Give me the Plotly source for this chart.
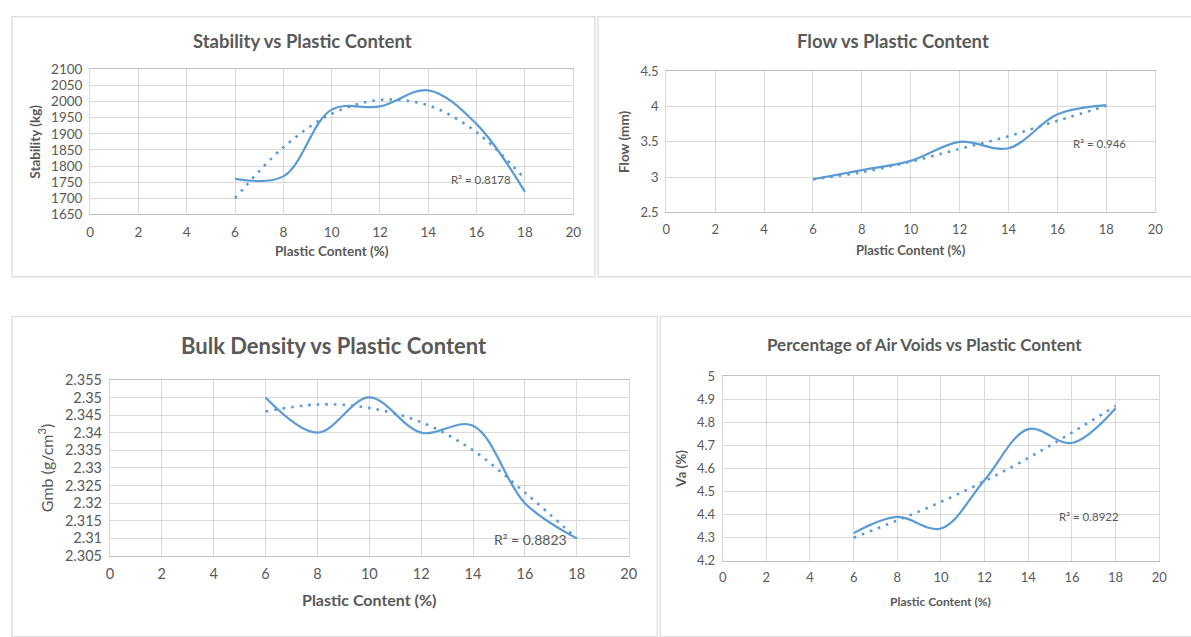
import plotly.graph_objects as go

W, H = 1191, 637

plastic = [6, 8, 10, 12, 14, 16, 18]

stability = [1760, 1768, 1975, 1985, 2035, 1930, 1720]
stability_trend = [1700, 1858, 1962, 2005, 1988, 1905, 1760]

flow = [2.97, 3.10, 3.23, 3.50, 3.41, 3.89, 4.02]
flow_trend = [2.97, 3.07, 3.22, 3.40, 3.58, 3.80, 4.01]

density = [2.350, 2.340, 2.350, 2.340, 2.342, 2.320, 2.310]
density_trend = [2.346, 2.348, 2.347, 2.343, 2.335, 2.323, 2.310]

air_voids = [4.32, 4.39, 4.34, 4.55, 4.77, 4.71, 4.86]
air_voids_trend = [4.30, 4.375, 4.455, 4.545, 4.645, 4.755, 4.87]

x_ticks = [0, 2, 4, 6, 8, 10, 12, 14, 16, 18, 20]

BLUE = "#5B9BD5"
GREY = "#595959"
GRID = "#d9d9d9"
FONT = "Lato, 'Open Sans', sans-serif"


def px_x(v):
    return v / W


def px_y(v):
    return 1 - v / H


panels = [
    dict(y=stability, t=stability_trend, xd=(87, 575), yd=(62, 211), yr=(1650, 2100), dt=50,
         ytitle="<b>Stability (kg)</b>", ytsize=13.5, title="<b>Stability vs Plastic Content</b>",
         tpos=(302, 33), tsize=18.5, r2="R² = 0.8178", r2pos=(16.2, 1758), xtitle_y=249,
         tick=13.5, xtsize=13.5, r2size=11.5),
    dict(y=flow, t=flow_trend, xd=(669, 1163), yd=(64, 209), yr=(2.5, 4.5), dt=0.5,
         ytitle="<b>Flow (mm)</b>", ytsize=13.5, title="<b>Flow vs Plastic Content</b>",
         tpos=(898, 33), tsize=18.5, r2="R² = 0.946", r2pos=(17.7, 3.48), xtitle_y=248,
         tick=13, xtsize=13, r2size=11.5),
    dict(y=density, t=density_trend, xd=(107, 631), yd=(381, 562), yr=(2.305, 2.355), dt=0.005,
         ytitle="Gmb (g/cm<sup>3</sup>)", ytsize=16, title="<b>Bulk Density vs Plastic Content</b>",
         tpos=(333, 346), tsize=22, r2="R² = 0.8823", r2pos=(16.2, 2.3098), xtitle_y=607,
         tick=14.5, xtsize=16, r2size=14),
    dict(y=air_voids, t=air_voids_trend, xd=(726, 1167), yd=(377, 567), yr=(4.2, 5.0), dt=0.1,
         ytitle="<b>Va (%)</b>", ytsize=13.5, title="<b>Percentage of Air Voids vs Plastic Content</b>",
         tpos=(930, 345), tsize=17, r2="R² = 0.8922", r2pos=(16.8, 4.39), xtitle_y=609,
         tick=13, xtsize=12, r2size=11.5),
]

fig = go.Figure()
annotations = []
shapes = []

# panel frames (page pixels)
frames = [(8, 8, 597, 275), (600, 8, 1200, 275), (8, 316, 660, 645), (663, 316, 1200, 645)]
for (x0, y0, x1, y1) in frames:
    shapes.append(dict(type="rect", xref="paper", yref="paper",
                       x0=px_x(x0), x1=px_x(x1), y0=px_y(y1), y1=px_y(y0),
                       line=dict(color="#e0e0e0", width=1.5), fillcolor="rgba(0,0,0,0)", layer="below"))

layout_axes = {}
for i, p in enumerate(panels, start=1):
    xa = "x" if i == 1 else f"x{i}"
    ya = "y" if i == 1 else f"y{i}"
    fig.add_trace(go.Scatter(x=plastic, y=p["y"], mode="lines", xaxis=xa, yaxis=ya,
                             line=dict(color=BLUE, width=2.2, shape="spline", smoothing=1.0),
                             showlegend=False, hoverinfo="x+y"))
    fig.add_trace(go.Scatter(x=plastic, y=p["t"], mode="lines", xaxis=xa, yaxis=ya,
                             line=dict(color=BLUE, width=2.6, dash="2.6px,6px", shape="spline", smoothing=1.0),
                             showlegend=False, hoverinfo="skip"))
    xk = "xaxis" if i == 1 else f"xaxis{i}"
    yk = "yaxis" if i == 1 else f"yaxis{i}"
    tick_font = dict(family=FONT, size=p["tick"], color=GREY)
    layout_axes[xk] = dict(domain=[px_x(p["xd"][0]), px_x(p["xd"][1])], anchor=ya,
                           range=[0, 20], tickvals=x_ticks, showgrid=True, gridcolor=GRID, gridwidth=1,
                           zeroline=False, showline=True, linecolor="#bfbfbf", linewidth=1, mirror=True,
                           ticks="outside", ticklen=5, tickcolor="rgba(0,0,0,0)",
                           tickfont=tick_font, fixedrange=True)
    layout_axes[yk] = dict(domain=[px_y(p["yd"][1]), px_y(p["yd"][0])], anchor=xa,
                           range=list(p["yr"]), dtick=p["dt"], tick0=p["yr"][0],
                           showgrid=True, gridcolor=GRID, gridwidth=1,
                           zeroline=False, showline=True, linecolor=GRID, linewidth=1, mirror=True,
                           ticks="outside", ticklen=4, tickcolor="rgba(0,0,0,0)",
                           tickfont=tick_font, fixedrange=True,
                           title=dict(text=p["ytitle"], font=dict(family=FONT, size=p["ytsize"], color=GREY), standoff=7))
    annotations.append(dict(text=p["title"], xref="paper", yref="paper",
                            x=px_x(p["tpos"][0]), y=px_y(p["tpos"][1]), xanchor="center", yanchor="middle",
                            showarrow=False, font=dict(family=FONT, size=p["tsize"], color=GREY)))
    xc = (p["xd"][0] + p["xd"][1]) / 2
    annotations.append(dict(text="<b>Plastic Content (%)</b>", xref="paper", yref="paper",
                            x=px_x(xc), y=px_y(p["xtitle_y"]), xanchor="center", yanchor="middle",
                            showarrow=False, font=dict(family=FONT, size=p["xtsize"], color=GREY)))
    annotations.append(dict(text=p["r2"], xref=xa, yref=ya, x=p["r2pos"][0], y=p["r2pos"][1],
                            xanchor="center", yanchor="middle", showarrow=False,
                            font=dict(family=FONT, size=p["r2size"], color=GREY)))

fig.update_layout(width=W, height=H, autosize=False, margin=dict(l=0, r=0, t=0, b=0),
                  paper_bgcolor="white", plot_bgcolor="white",
                  annotations=annotations, shapes=shapes, **layout_axes)

fig.write_html("out.html", config={"displayModeBar": False},
               post_script="document.body.style.margin='0';document.body.style.overflow='hidden';")
